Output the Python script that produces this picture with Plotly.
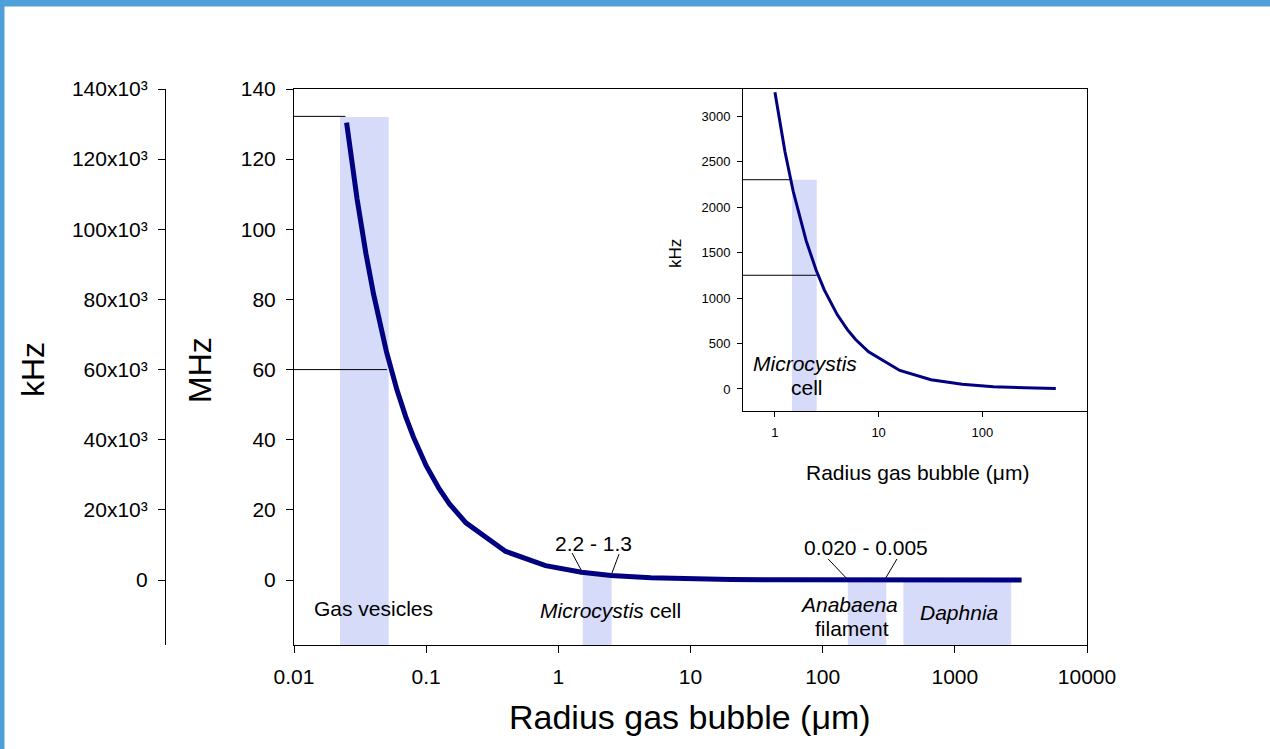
import math
import plotly.graph_objects as go

# ---------------- data ----------------
radius_main_um = [0.025, 0.03, 0.035, 0.04, 0.05, 0.06, 0.07, 0.08, 0.1, 0.125, 0.15, 0.2,
                  0.4, 0.8, 1.5, 2.5, 5, 10, 20, 50, 100, 200, 500, 1000, 2000, 3200]
freq_main_mhz = [130.4, 108.7, 93.1, 81.5, 65.2, 54.3, 46.6, 40.8, 32.6, 26.1, 21.7, 16.3,
                 8.15, 4.1, 2.2, 1.3, 0.65, 0.33, 0.16, 0.065, 0.033, 0.016, 0.0065, 0.0033, 0.0016, 0.001]

radius_inset_um = [1, 1.25, 1.5, 2, 2.5, 3, 4, 5, 6, 8, 16, 32, 64, 128, 256, 512]
freq_inset_khz = [3260, 2608, 2173, 1630, 1304, 1087, 815, 652, 543, 408, 204, 102, 51, 25, 13, 6]

mhz_tick_vals = [0, 20, 40, 60, 80, 100, 120, 140]
khz_tick_vals = [0, 20000, 40000, 60000, 80000, 100000, 120000, 140000]
khz_tick_text = ["0", "20x10\u00b3", "40x10\u00b3", "60x10\u00b3", "80x10\u00b3",
                 "100x10\u00b3", "120x10\u00b3", "140x10\u00b3"]
x_tick_vals = [0.01, 0.1, 1, 10, 100, 1000, 10000]
x_tick_text = ["0.01", "0.1", "1", "10", "100", "1000", "10000"]
inset_x_tick_vals = [1, 10, 100]
inset_x_tick_text = ["1", "10", "100"]
inset_y_tick_vals = [0, 500, 1000, 1500, 2000, 2500, 3000]

main_x_range_log = [-2, 4]
main_y_range = [-18.53, 140]
inset_x_range_log = [-0.308, 3.01]
inset_y_range = [-242, 3297]

# shaded bands on the main chart
band_r0 = [0.0223, 1.53, 155, 408]
band_r1 = [0.052, 2.53, 303, 2670]
band_top_mhz = [132, 1.5, 0, 0]

# shaded band on the inset
inset_band_r0 = [1.46]
inset_band_r1 = [2.53]
inset_band_top_khz = [2300]

# horizontal reference lines
main_ref_level_mhz = [132.2, 60]
main_ref_r_end = [0.0245, 0.0505]
inset_ref_level_khz = [2300, 1250]
inset_ref_r_end = [1.46, 2.53]

# leader lines (r start, f start, r end, f end)
leader_r0 = [1.27, 2.88, 110, 365]
leader_f0 = [7.7, 7.4, 6.0, 6.0]
leader_r1 = [1.52, 2.5, 155, 296]
leader_f1 = [2.2, 1.2, 0.1, 0.2]

# text labels inside main chart
label_text = ["2.2 - 1.3", "0.020 - 0.005", "Gas vesicles", "<i>Microcystis</i> cell",
              "<i>Anabaena</i>", "filament", "<i>Daphnia</i>"]
label_r = [1.83, 213, 0.0396, 2.46, 158, 167, 1074]
label_f = [10.55, 9.4, -8.0, -8.55, -7.1, -13.7, -9.4]

inset_label_text = ["<i>Microcystis</i>", "cell"]
inset_label_r = [1.94, 2.03]
inset_label_f = [275, 11]

# ---------------- styling ----------------
W, H = 1270, 749
FONT = "Arial, Liberation Sans, sans-serif"
NAVY = "#000080"
BAND = "#d6dbf9"
BORDER = "#4f9fd9"


def px_x(p):
    return p / W


def px_y(p):
    return 1 - p / H


main_xdom = [px_x(294), px_x(1087)]
main_ydom = [px_y(645), px_y(89)]
inset_xdom = [px_x(743), px_x(1087)]
inset_ydom = [px_y(411), px_y(89)]

fig = go.Figure()

for r0, r1, top in zip(band_r0, band_r1, band_top_mhz):
    fig.add_trace(go.Scatter(x=[r0, r1, r1, r0, r0], y=[main_y_range[0], main_y_range[0], top, top, main_y_range[0]],
                             fill="toself", fillcolor=BAND, line=dict(width=0), mode="lines",
                             hoverinfo="skip", xaxis="x", yaxis="y"))
x_left_main = 10 ** main_x_range_log[0]
for lvl, rend in zip(main_ref_level_mhz, main_ref_r_end):
    fig.add_trace(go.Scatter(x=[x_left_main, rend], y=[lvl, lvl], mode="lines",
                             line=dict(color="black", width=1), hoverinfo="skip", xaxis="x", yaxis="y"))
for a, b, c, d in zip(leader_r0, leader_f0, leader_r1, leader_f1):
    fig.add_trace(go.Scatter(x=[a, c], y=[b, d], mode="lines",
                             line=dict(color="black", width=1), hoverinfo="skip", xaxis="x", yaxis="y"))
fig.add_trace(go.Scatter(x=radius_main_um, y=freq_main_mhz, mode="lines",
                         line=dict(color=NAVY, width=5), xaxis="x", yaxis="y"))
fig.add_trace(go.Scatter(x=[None], y=[None], xaxis="x", yaxis="y2", showlegend=False))

for r0, r1, top in zip(inset_band_r0, inset_band_r1, inset_band_top_khz):
    fig.add_trace(go.Scatter(x=[r0, r1, r1, r0, r0], y=[inset_y_range[0], inset_y_range[0], top, top, inset_y_range[0]],
                             fill="toself", fillcolor=BAND, line=dict(width=0), mode="lines",
                             hoverinfo="skip", xaxis="x2", yaxis="y3"))
x_left_inset = 10 ** inset_x_range_log[0]
for lvl, rend in zip(inset_ref_level_khz, inset_ref_r_end):
    fig.add_trace(go.Scatter(x=[x_left_inset, rend], y=[lvl, lvl], mode="lines",
                             line=dict(color="black", width=1), hoverinfo="skip", xaxis="x2", yaxis="y3"))
fig.add_trace(go.Scatter(x=radius_inset_um, y=freq_inset_khz, mode="lines",
                         line=dict(color=NAVY, width=3), xaxis="x2", yaxis="y3"))

tick_font = dict(family=FONT, size=21, color="black")
inset_tick_font = dict(family=FONT, size=13, color="black")

fig.update_layout(
    width=W, height=H, autosize=False,
    margin=dict(l=0, r=0, t=0, b=0, pad=0, autoexpand=False),
    paper_bgcolor="white", plot_bgcolor="white",
    showlegend=False,
    font=dict(family=FONT, color="black"),
    xaxis=dict(type="log", range=main_x_range_log, domain=main_xdom, anchor="y", automargin=False,
               tickmode="array", tickvals=x_tick_vals, ticktext=x_tick_text,
               ticks="outside", ticklen=7, tickcolor="black", tickwidth=1,
               showline=True, linecolor="black", linewidth=1, mirror=True,
               showgrid=False, zeroline=False, tickfont=tick_font, ticklabelstandoff=6),
    yaxis=dict(range=main_y_range, domain=main_ydom, anchor="x", automargin=False,
               tickmode="array", tickvals=mhz_tick_vals,
               ticks="outside", ticklen=7, tickcolor="black", tickwidth=1,
               showline=True, linecolor="black", linewidth=1, mirror=True,
               showgrid=False, zeroline=False, tickfont=tick_font, ticklabelstandoff=6),
    yaxis2=dict(range=[v * 1000 for v in main_y_range], overlaying="y", anchor="free", automargin=False,
                position=px_x(165), side="left",
                tickmode="array", tickvals=khz_tick_vals, ticktext=khz_tick_text,
                ticks="outside", ticklen=7, tickcolor="black", tickwidth=1,
                showline=True, linecolor="black", linewidth=1,
                showgrid=False, zeroline=False, tickfont=tick_font, ticklabelstandoff=6),
    xaxis2=dict(type="log", range=inset_x_range_log, domain=inset_xdom, anchor="y3", automargin=False,
                tickmode="array", tickvals=inset_x_tick_vals, ticktext=inset_x_tick_text,
                ticks="outside", ticklen=5, tickcolor="black", tickwidth=1,
                showline=True, linecolor="black", linewidth=1, mirror=True,
                showgrid=False, zeroline=False, tickfont=inset_tick_font, ticklabelstandoff=4),
    yaxis3=dict(range=inset_y_range, domain=inset_ydom, anchor="x2", automargin=False,
                tickmode="array", tickvals=inset_y_tick_vals,
                ticks="outside", ticklen=5, tickcolor="black", tickwidth=1,
                showline=True, linecolor="black", linewidth=1, mirror=True,
                showgrid=False, zeroline=False, tickfont=inset_tick_font, ticklabelstandoff=4),
)

annotations = []
for t, r, f in zip(label_text, label_r, label_f):
    annotations.append(dict(text=t, x=math.log10(r), y=f, xref="x", yref="y", showarrow=False,
                            xanchor="center", yanchor="middle", font=dict(family=FONT, size=21, color="black")))
for t, r, f in zip(inset_label_text, inset_label_r, inset_label_f):
    annotations.append(dict(text=t, x=math.log10(r), y=f, xref="x2", yref="y3", showarrow=False,
                            xanchor="center", yanchor="middle", font=dict(family=FONT, size=21, color="black")))

annotations += [
    dict(text="kHz", x=px_x(33), y=px_y(370), xref="paper", yref="paper", showarrow=False, textangle=-90,
         xanchor="center", yanchor="middle", font=dict(family=FONT, size=32, color="black")),
    dict(text="MHz", x=px_x(200), y=px_y(370), xref="paper", yref="paper", showarrow=False, textangle=-90,
         xanchor="center", yanchor="middle", font=dict(family=FONT, size=32, color="black")),
    dict(text="Radius gas bubble (\u03bcm)", x=px_x(690), y=px_y(717), xref="paper", yref="paper",
         showarrow=False, xanchor="center", yanchor="middle", font=dict(family=FONT, size=34, color="black")),
    dict(text="kHz", x=px_x(675), y=px_y(254), xref="paper", yref="paper", showarrow=False, textangle=-90,
         xanchor="center", yanchor="middle", font=dict(family=FONT, size=17, color="black")),
    dict(text="Radius gas bubble (\u03bcm)", x=px_x(917), y=px_y(472), xref="paper", yref="paper",
         showarrow=False, xanchor="center", yanchor="middle", font=dict(family=FONT, size=21, color="black")),
]
fig.update_layout(annotations=annotations)

fig.update_layout(shapes=[
    dict(type="rect", xref="paper", yref="paper", x0=0, x1=1, y0=px_y(6.5), y1=1,
         fillcolor=BORDER, line=dict(width=0), layer="above"),
    dict(type="rect", xref="paper", yref="paper", x0=0, x1=px_x(4.5), y0=0, y1=1,
         fillcolor=BORDER, line=dict(width=0), layer="above"),
])

fig.write_html(
    "out.html",
    config={"responsive": False},
    post_script="document.documentElement.style.margin='0';document.documentElement.style.padding='0';"
                "document.body.style.margin='0';document.body.style.padding='0';"
                "document.body.style.overflow='hidden';document.documentElement.style.overflow='hidden';",
)
